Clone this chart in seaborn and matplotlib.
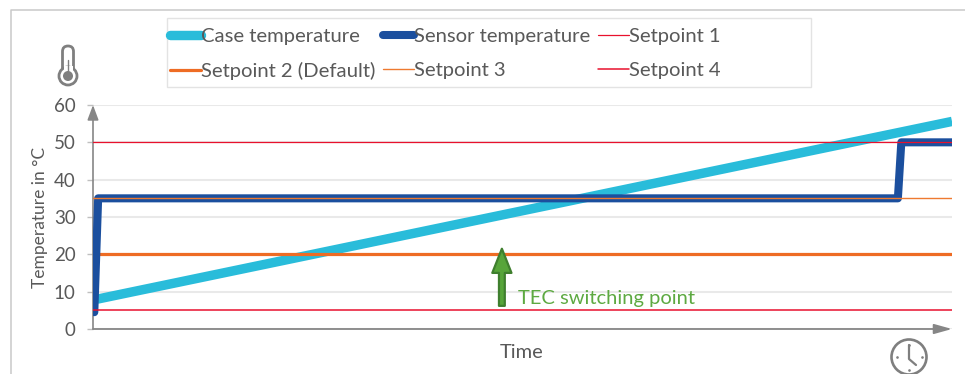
import numpy as np
import pandas as pd
import matplotlib
matplotlib.use("Agg")
import matplotlib.pyplot as plt
from matplotlib.patches import Circle, FancyBboxPatch, Rectangle
import seaborn as sns

# ---- data ----
case_time = [0.5, 100]
case_temp = [8, 55.6]
sensor_time = [0.15, 0.6, 93.7, 94.1, 100]
sensor_temp = [4.5, 35, 35, 50, 50]
setpoint_time = [0, 100]
setpoint_1 = [50, 50]
setpoint_2 = [20, 20]
setpoint_3 = [35, 35]
setpoint_4 = [5, 5]
y_ticks_all = [0, 10, 20, 30, 40, 50, 60]

W, H = 965, 374
GREY = "#595959"
AX = "#868686"

sns.set_theme(style="white")
plt.rcParams["font.family"] = ["Lato", "DejaVu Sans"]

fig = plt.figure(figsize=(W / 100, H / 100), dpi=100)
ax = fig.add_axes([93 / W, (H - 329) / H, 859 / W, 224 / H])

sns.lineplot(x=case_time, y=case_temp, color="#29BCDA", lw=6.8, ax=ax, label="Case temperature",
             solid_capstyle="butt", zorder=3)
sns.lineplot(x=setpoint_time, y=setpoint_2, color="#EE6C24", lw=2.3, ax=ax, label="Setpoint 2 (Default)",
             zorder=3.5)
sns.lineplot(x=sensor_time, y=sensor_temp, color="#1B4F9E", lw=5.8, ax=ax, label="Sensor temperature",
             solid_capstyle="round", solid_joinstyle="round", zorder=4)
sns.lineplot(x=setpoint_time, y=setpoint_3, color="#EE7A30", lw=1.0, ax=ax, label="Setpoint 3", zorder=5)
sns.lineplot(x=setpoint_time, y=setpoint_1, color="#E8112D", lw=0.9, ax=ax, label="Setpoint 1", zorder=5)
sns.lineplot(x=setpoint_time, y=setpoint_4, color="#E8112D", lw=1.1, ax=ax, label="Setpoint 4", zorder=5)

handles, labels = ax.get_legend_handles_labels()
ax.get_legend().remove()

ax.set_xlim(0, 100)
ax.set_ylim(0, 60)
ax.set_yticks(y_ticks_all)
ax.set_xticks([])
ax.grid(axis="y", color="#E9E9E9", lw=1.5)
ax.set_axisbelow(True)
for s in ["top", "right", "left", "bottom"]:
    ax.spines[s].set_visible(False)
ax.tick_params(axis="y", length=4.5, width=1, color="#BFBFBF", labelsize=13.5, labelcolor=GREY, pad=8, left=True)
ax.set_xlabel("")
ax.set_ylabel("")

# axis arrows
ax.annotate("", xy=(0, 60), xytext=(0, 0), annotation_clip=False, zorder=2,
            arrowprops=dict(arrowstyle="-|>,head_width=0.28,head_length=0.75", color=AX, lw=1.2,
                            shrinkA=0, shrinkB=0))
ax.annotate("", xy=(100, 0), xytext=(0, 0), annotation_clip=False, zorder=2,
            arrowprops=dict(arrowstyle="-|>,head_width=0.25,head_length=0.9", color=AX, lw=1.3,
                            shrinkA=0, shrinkB=0))

# TEC annotation
ax.annotate("", xy=(47.6, 21.5), xytext=(47.6, 6.2), zorder=6,
            arrowprops=dict(arrowstyle="simple,head_width=1.15,head_length=1.45,tail_width=0.35",
                            fc="#57A53A", ec="#3F7F2E", lw=1.6, shrinkA=0, shrinkB=0))
ax.text(49.5, 8.2, "TEC switching point", color="#5DA941", fontsize=14.5, va="center", ha="left", zorder=6)

# overlay in pixel coordinates for labels, frame and icons
ov = fig.add_axes([0, 0, 1, 1], zorder=10)
ov.set_xlim(0, W)
ov.set_ylim(H, 0)
ov.axis("off")
ov.patch.set_alpha(0)
ov.text(40, 217, "Temperature in °C", rotation=90, color=GREY, fontsize=12.5, ha="center", va="center")
ov.text(522, 352, "Time", color=GREY, fontsize=14.5, ha="center", va="center")
ov.plot([10.5, 10.5, W], [H, 9.5, 9.5], color="#C9C9C9", lw=1.1)
ov.add_patch(Rectangle((166.5, 17.5), 644, 69, fc="white", ec="#E3E3E3", lw=1.0))

# thermometer icon
ICON = "#7F7F7F"
ov.add_patch(FancyBboxPatch((62.5, 46), 11, 30, boxstyle="round,pad=0,rounding_size=5.5",
                            fc="white", ec=ICON, lw=2.0))
ov.add_patch(Circle((68, 76), 9, fc="white", ec=ICON, lw=2.0))
ov.add_patch(Rectangle((63.5, 66), 9, 6, fc="white", ec="none"))
ov.add_patch(Circle((68, 76), 5, fc=ICON, ec="none"))
ov.plot([68, 68], [60, 74], color=ICON, lw=1.0)

# clock icon
ov.add_patch(Circle((909, 357), 17.5, fc="white", ec=ICON, lw=1.9))
ov.plot([909, 909, 916], [345, 359, 365], color=ICON, lw=1.6)
for dx, dy in [(0, -12.5), (12.5, 0), (0, 12.5), (-12.5, 0)]:
    ov.plot([909 + dx], [357 + dy], ".", color=ICON, ms=1.8)

# legend
leg = fig.legend(handles, labels, ncol=3, loc="upper left", bbox_to_anchor=(170 / W, 1 - 28 / H),
                 bbox_transform=fig.transFigure, frameon=False, fontsize=14.6, handlelength=1.55,
                 handletextpad=0.0, columnspacing=0.35, labelspacing=0.82, borderpad=0,
                 labelcolor=GREY, borderaxespad=0)
leg.set_zorder(20)
for line in leg.get_lines():
    line.set_solid_capstyle("round")

fig.savefig("out.png", dpi=100, facecolor="white")
